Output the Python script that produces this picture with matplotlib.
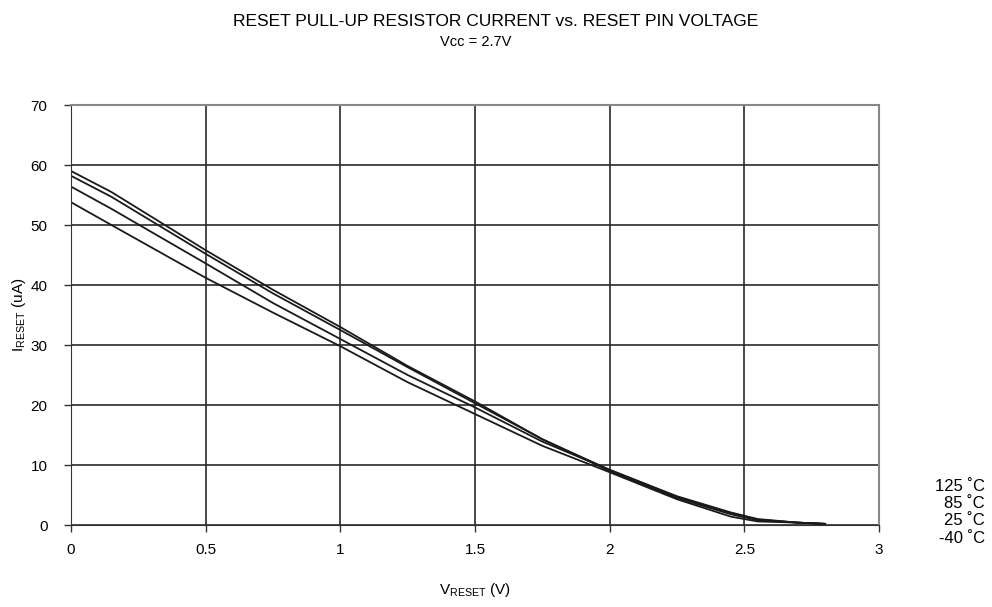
import matplotlib
matplotlib.use("Agg")
import matplotlib.pyplot as plt

plt.rcParams["font.family"] = ["Liberation Sans", "DejaVu Sans"]
plt.rcParams["mathtext.fontset"] = "custom"
plt.rcParams["mathtext.rm"] = "Liberation Sans"

# V_RESET (V)
v_reset = [0.0, 0.15, 0.5, 0.75, 1.0, 1.25, 1.5, 1.75, 2.0, 2.25, 2.45, 2.55, 2.7, 2.8]
# I_RESET (uA), one list per temperature
i_m40 = [59.0, 55.5, 45.8, 39.2, 33.0, 26.5, 20.6, 14.3, 9.0, 4.5, 1.8, 0.8, 0.4, 0.2]
i_25 = [58.2, 54.7, 45.2, 38.6, 32.5, 26.3, 20.3, 14.3, 9.2, 4.7, 2.0, 0.9, 0.4, 0.2]
i_85 = [56.4, 52.7, 43.6, 37.0, 31.0, 25.0, 19.6, 13.9, 9.2, 4.8, 2.1, 1.0, 0.4, 0.2]
i_125 = [53.8, 50.0, 41.2, 35.4, 29.8, 23.8, 18.5, 13.2, 8.8, 4.3, 1.4, 0.6, 0.4, 0.2]
temp_labels = ["125 ˚C", "85 ˚C", "25 ˚C", "-40 ˚C"]

fig = plt.figure(figsize=(9.92, 6.07), dpi=100)
ax = fig.add_axes([0.0716, 0.135, 0.8145, 0.692])

for ys in (i_m40, i_25, i_85, i_125):
    ax.plot(v_reset, ys, color="#1a1a1a", lw=1.3)

ax.set_xlim(0, 3)
ax.set_ylim(0, 70)
ax.set_xticks([0, 0.5, 1, 1.5, 2, 2.5, 3])
ax.set_xticklabels(["0", "0.5", "1", "1.5", "2", "2.5", "3"])
ax.set_yticks(range(0, 71, 10))
ax.grid(True, color="#2a2a2a", lw=1.2)
ax.tick_params(labelsize=11, length=5, width=1, color="#333333")
ax.tick_params(axis="x", pad=8)
ax.tick_params(axis="y", pad=12)
for s in ("top", "right"):
    ax.spines[s].set_color("#888888")
    ax.spines[s].set_linewidth(1.5)
for s in ("left", "bottom"):
    ax.spines[s].set_color("#333333")

ax.set_xlabel(r"V$_{\mathrm{RESET}}$ (V)", fontsize=11, labelpad=17)
ax.set_ylabel(r"I$_{\mathrm{RESET}}$ (uA)", fontsize=11, labelpad=2)

fig.text(0.5, 0.965, "RESET PULL-UP RESISTOR CURRENT vs. RESET PIN VOLTAGE",
         ha="center", va="center", fontsize=12.5)
fig.text(0.48, 0.930, "Vcc = 2.7V", ha="center", va="center", fontsize=10.5)

for k, lab in enumerate(temp_labels):
    fig.text(0.993, 0.199 - k * 0.0285, lab, ha="right", va="center", fontsize=12)

fig.savefig("out.png", dpi=100)
